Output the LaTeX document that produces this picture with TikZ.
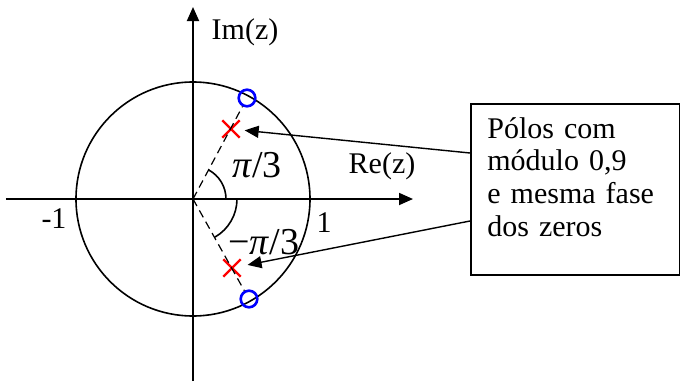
\documentclass[tikz,border=0pt]{standalone}
\usepackage{fontspec}
\setmainfont{Liberation Serif}
\usetikzlibrary{arrows.meta,positioning,shapes.misc}

\begin{document}
\begin{tikzpicture}[x=0.5pt,y=0.5pt,>={Triangle[length=7pt,width=6pt]},
  zero/.style={circle,draw=blue,line width=1.3pt,minimum size=8.3pt,inner sep=0pt},
  pole/.style={cross out,draw=red,line width=1.2pt,minimum size=7.5pt,inner sep=0pt},
  lbl/.style={font=\fontsize{15}{16.3}\selectfont,inner sep=0pt},
  ang/.style={font=\fontsize{19}{20}\selectfont,inner sep=0pt}]
\useasboundingbox (-193,-182) rectangle (487,199);
\coordinate (O) at (0,0);
% axes and unit circle
\draw[line width=0.9pt,->] (-187,0) -- (220,0);
\draw[line width=0.9pt,->] (0,-182) -- (0,192);
\draw[line width=0.8pt] (O) circle[radius=117];
% zeros and poles
\node[zero] (z1) at (54,101) {};
\node[zero] (z2) at (56,-100) {};
\node[pole] (p1) at (38,70) {};
\node[pole] (p2) at (39,-69) {};
\draw[dash pattern=on 4pt off 2.5pt,line width=0.6pt] (O) -- (z1);
\draw[dash pattern=on 4pt off 2.5pt,line width=0.6pt] (O) -- (z2);
\draw[line width=0.8pt] (33,0) arc[start angle=0,end angle=62,radius=33];
\draw[line width=0.8pt] (44,0) arc[start angle=0,end angle=-60,radius=44];
% labels
\node[lbl] (imlbl) at (52,167) {Im(z)};
\node[lbl] (relbl) at (189,33) {Re(z)};
\node[lbl] (one) at (131,-24) {1};
\node[lbl] (mone) at (-139,-20) {-1};
\node[ang] (a1) at (64,34) {\textit{π}/3};
\node[ang] (a2) at (71,-43) {−\textit{π}/3};
% note box
\node[draw,line width=0.8pt,anchor=north west,minimum width=104.5pt,minimum height=85.5pt] (note) at (277,96) {};
\node[lbl,anchor=north west,text width=90pt,align=left] (notetext) at ([xshift=8.5pt,yshift=-7pt]note.north west)
  {Pólos com\\módulo 0,9\\e mesma fase\\dos zeros};
\draw[->,line width=0.7pt,shorten >=2.5pt] ([yshift=-25pt]note.north west) -- (p1);
\draw[->,line width=0.7pt,shorten >=3.5pt] ([yshift=-59pt]note.north west) -- (p2);
\end{tikzpicture}
\end{document}
